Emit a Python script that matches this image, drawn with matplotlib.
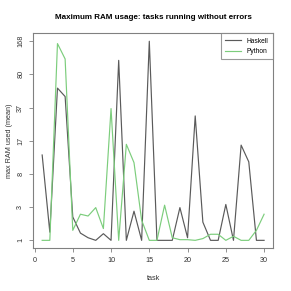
import numpy as np
import matplotlib
matplotlib.use("Agg")
import matplotlib.pyplot as plt

# Chart data
tasks = list(range(1, 31))
haskell = [12.4, 1.4, 58.5, 48.3, 2.37, 1.35, 1.12, 1.0, 1.32, 1.0,
           109.4, 1.0, 2.83, 1.0, 168.0, 1.0, 1.0, 1.0, 3.15, 1.12,
           31.0, 2.0, 1.0, 1.0, 3.45, 1.0, 15.7, 10.5, 1.0, 1.0]
python = [1.0, 1.0, 159.4, 112.9, 1.5, 2.58, 2.44, 3.15, 1.6, 36.7,
          1.0, 16.0, 10.3, 2.13, 1.0, 1.0, 3.38, 1.12, 1.03, 1.03,
          1.0, 1.08, 1.29, 1.29, 1.0, 1.19, 1.0, 1.0, 1.5, 2.58]
ytick_labels = ["1", "3", "8", "17", "37", "80", "168"]
xticks = [0, 5, 10, 15, 20, 25, 30]

plt.rcParams["font.family"] = ["Liberation Sans", "DejaVu Sans"]

fig = plt.figure(figsize=(2.91, 2.91), dpi=100)
ax = fig.add_axes([0.1144, 0.1467, 0.8236, 0.7389])

ax.plot(tasks, haskell, color="#5a5a5a", linewidth=0.85, label="Haskell")
ax.plot(tasks, python, color="#7CCD7C", linewidth=0.85, label="Python")

# log(1 + x) axis, ticks equally spaced in transformed units like the R plot
ax.set_yscale("function", functions=(np.log1p, np.expm1))
t0, t1 = np.log1p(1.0), np.log1p(168.0)
pad = 0.04 * (t1 - t0)
ax.set_ylim(np.expm1(t0 - pad), np.expm1(t1 + pad))
ax.set_yticks(np.expm1(np.linspace(t0, t1, len(ytick_labels))))
ax.set_yticklabels(ytick_labels, rotation=90, va="center")
ax.minorticks_off()

xpad = 0.04 * (tasks[-1] - tasks[0])
ax.set_xlim(tasks[0] - xpad, tasks[-1] + xpad)
ax.set_xticks(xticks)

for s in ax.spines.values():
    s.set_color("#808080")
    s.set_linewidth(0.8)
ax.tick_params(length=3, width=0.6, color="#808080", labelsize=5.2,
               pad=3.5, labelcolor="#333333")

ax.set_xlabel("task", fontsize=5.2, color="#333333", labelpad=8)
ax.set_ylabel("max RAM used (mean)", fontsize=5.2, color="#333333", labelpad=3)
ax.set_title("Maximum RAM usage: tasks running without errors",
             fontsize=5.8, fontweight="bold", pad=10)

leg = ax.legend(loc="upper right", fontsize=4.8, frameon=True, fancybox=False,
                borderaxespad=0, handlelength=2.4, handletextpad=0.9,
                borderpad=0.65, labelspacing=0.5)
leg.get_frame().set_edgecolor("#808080")
leg.get_frame().set_linewidth(0.8)

fig.savefig("out.png", dpi=100)
